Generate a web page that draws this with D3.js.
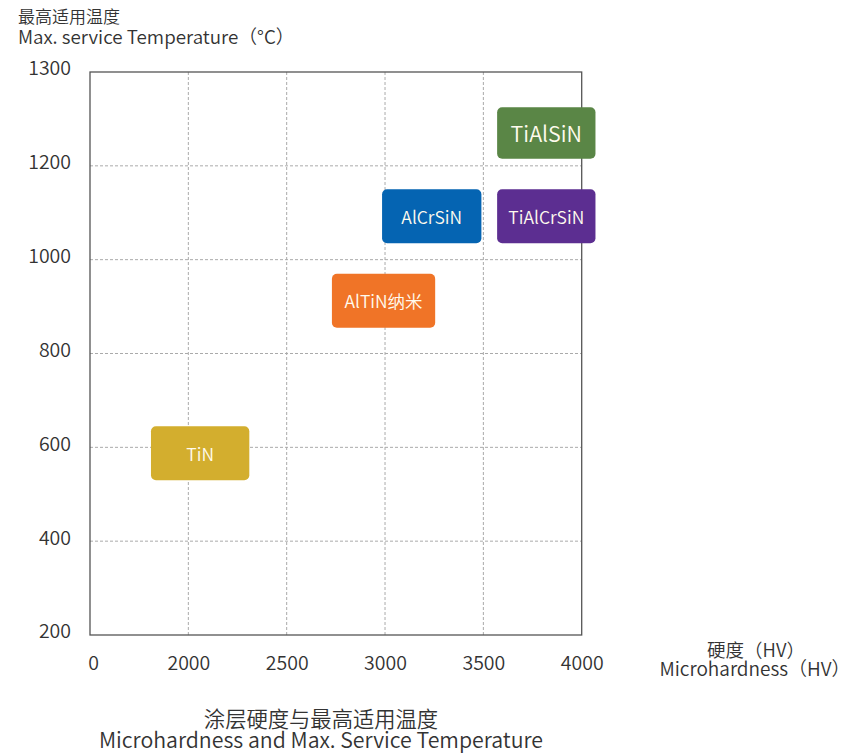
<!DOCTYPE html>
<html><head><meta charset="utf-8">
<script src="https://cdn.jsdelivr.net/npm/d3@7"></script>
<style>body{margin:0;background:#fff;}text{font-family:"Noto Sans CJK SC","Noto Sans",sans-serif;font-weight:350;}</style>
</head><body><svg id="c" width="845" height="755"></svg>
<script>
const coatings = ["TiAlSiN","TiAlCrSiN","AlCrSiN","AlTiN纳米","TiN"];
const hardMin = [3570,3570,2985,2730,1810];
const hardMax = [4070,4070,3490,3255,2310];
const tempMin = [1215,1035,1035,855,530];
const tempMax = [1325,1150,1150,970,645];
const colors = ["#5a8646","#5c2e91","#0564b2","#f07427","#d3ae2e"];
const xTickValues = [1500,2000,2500,3000,3500,4000];
const xTickLabels = ["0","2000","2500","3000","3500","4000"];
const yTickValues = [200,400,600,800,1000,1200,1400];
const yTickLabels = ["200","400","600","800","1000","1200","1300"];

const svg = d3.select("#c");
const L=90,R=581.7,T=72,B=635;
const x = d3.scaleLinear().domain([1500,4000]).range([L,R]);
const y = d3.scaleLinear().domain([200,1400]).range([B,T]);

// grid
const g = svg.append("g");
g.selectAll(".vg").data(xTickValues.slice(1,-1)).join("line")
 .attr("x1",d=>x(d)).attr("x2",d=>x(d)).attr("y1",T).attr("y2",B)
 .attr("stroke","#aaa").attr("stroke-dasharray","3,2").attr("stroke-width",1);
g.selectAll(".hg").data(yTickValues.slice(1,-1)).join("line")
 .attr("x1",L).attr("x2",R).attr("y1",d=>y(d)).attr("y2",d=>y(d))
 .attr("stroke","#aaa").attr("stroke-dasharray","3,2").attr("stroke-width",1);

// axes
const xAxis = d3.axisBottom(x).tickValues(xTickValues).tickSize(0).tickPadding(21)
 .tickFormat((d,i)=>xTickLabels[i]);
const xa = svg.append("g").attr("transform",`translate(0,${B})`).call(xAxis);
xa.select(".domain").remove();
xa.selectAll("text").attr("font-size",19.5).attr("fill","#333").attr("font-family","Noto Sans CJK SC")
 .attr("dx",(d,i)=>i===0?3:0);
const yAxis = d3.axisLeft(y).tickValues(yTickValues).tickSize(0).tickPadding(19)
 .tickFormat((d,i)=>yTickLabels[i]);
const ya = svg.append("g").attr("transform",`translate(${L},0)`).call(yAxis);
ya.select(".domain").remove();
ya.selectAll("text").attr("font-size",19.5).attr("fill","#333").attr("font-family","Noto Sans CJK SC").attr("dy","0.15em");

// frame
svg.append("rect").attr("x",L).attr("y",T).attr("width",R-L).attr("height",B-T)
 .attr("fill","none").attr("stroke","#555").attr("stroke-width",1.3);

// boxes
const boxes = svg.append("g").selectAll("g").data(coatings).join("g");
boxes.append("rect")
 .attr("x",(d,i)=>x(hardMin[i])).attr("y",(d,i)=>y(tempMax[i]))
 .attr("width",(d,i)=>x(hardMax[i])-x(hardMin[i]))
 .attr("height",(d,i)=>y(tempMin[i])-y(tempMax[i]))
 .attr("rx",5).attr("fill",(d,i)=>colors[i]);
boxes.append("text")
 .attr("x",(d,i)=>(x(hardMin[i])+x(hardMax[i]))/2)
 .attr("y",(d,i)=>(y(tempMin[i])+y(tempMax[i]))/2)
 .attr("text-anchor","middle").attr("dominant-baseline","central")
 .attr("fill","#fffbee").attr("font-size",(d,i)=>i===0?21.5:17.5)
 .text(d=>d);

// titles
const t = svg.append("g").attr("fill","#333");
t.append("text").attr("x",18).attr("y",23).attr("font-size",17).text("最高适用温度");
t.append("text").attr("x",18).attr("y",44).attr("font-size",18.8).text("Max. service Temperature（°C）");
t.append("text").attr("x",756).attr("y",657).attr("font-size",18.5).attr("text-anchor","middle").text("硬度（HV）");
t.append("text").attr("x",755).attr("y",676).attr("font-size",19).attr("text-anchor","middle").text("Microhardness（HV）");
t.append("text").attr("x",321).attr("y",727).attr("font-size",21.3).attr("text-anchor","middle").text("涂层硬度与最高适用温度");
t.append("text").attr("x",321).attr("y",748).attr("font-size",21.3).attr("text-anchor","middle").text("Microhardness and Max. Service Temperature");
</script></body></html>
